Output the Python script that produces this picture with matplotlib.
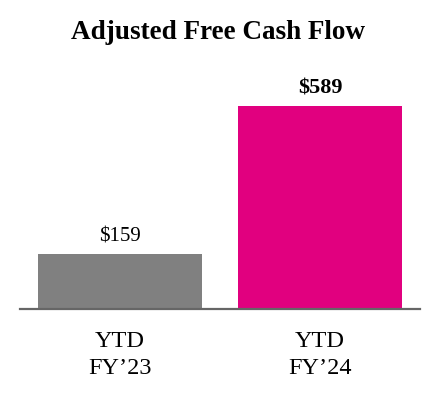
import matplotlib
matplotlib.use("Agg")
import matplotlib.pyplot as plt

categories = ["YTD\nFY\u201923", "YTD\nFY\u201924"]
values = [159, 589]
value_labels = ["$159", "$589"]
colors = ["#808080", "#E1007F"]
title = "Adjusted Free Cash Flow"

plt.rcParams['font.family'] = ['Liberation Serif', 'DejaVu Serif']

fig = plt.figure(figsize=(4.4, 4.0), dpi=100)
ax = fig.add_axes([20 / 440, 91 / 400, 400 / 440, 241 / 400])
x = list(range(len(categories)))
ax.bar(x, values, width=0.82, color=colors, zorder=2)
ax.set_xlim(-0.5, 1.5)
ax.set_ylim(0, 700)
for s in ["top", "right", "left"]:
    ax.spines[s].set_visible(False)
ax.spines["bottom"].set_color("#666666")
ax.spines["bottom"].set_linewidth(1.6)
ax.spines["bottom"].set_zorder(3)
ax.set_yticks([])
ax.set_xticks(x)
ax.set_xticklabels(categories, fontsize=17.5, linespacing=1.38)
ax.tick_params(axis="x", length=0, pad=16)

weights = ["normal", "bold"]
sizes = [15, 16]
for xi, v, lab, w, fs in zip(x, values, value_labels, weights, sizes):
    ax.annotate(lab, (xi, v), xytext=(0, 9.5), textcoords="offset points",
                ha="center", va="baseline", fontsize=fs, fontweight=w)

fig.text(0.495, 1 - 39 / 400, title, ha="center", va="baseline",
         fontsize=19.5, fontweight="bold")

fig.savefig("out.png", dpi=100)
